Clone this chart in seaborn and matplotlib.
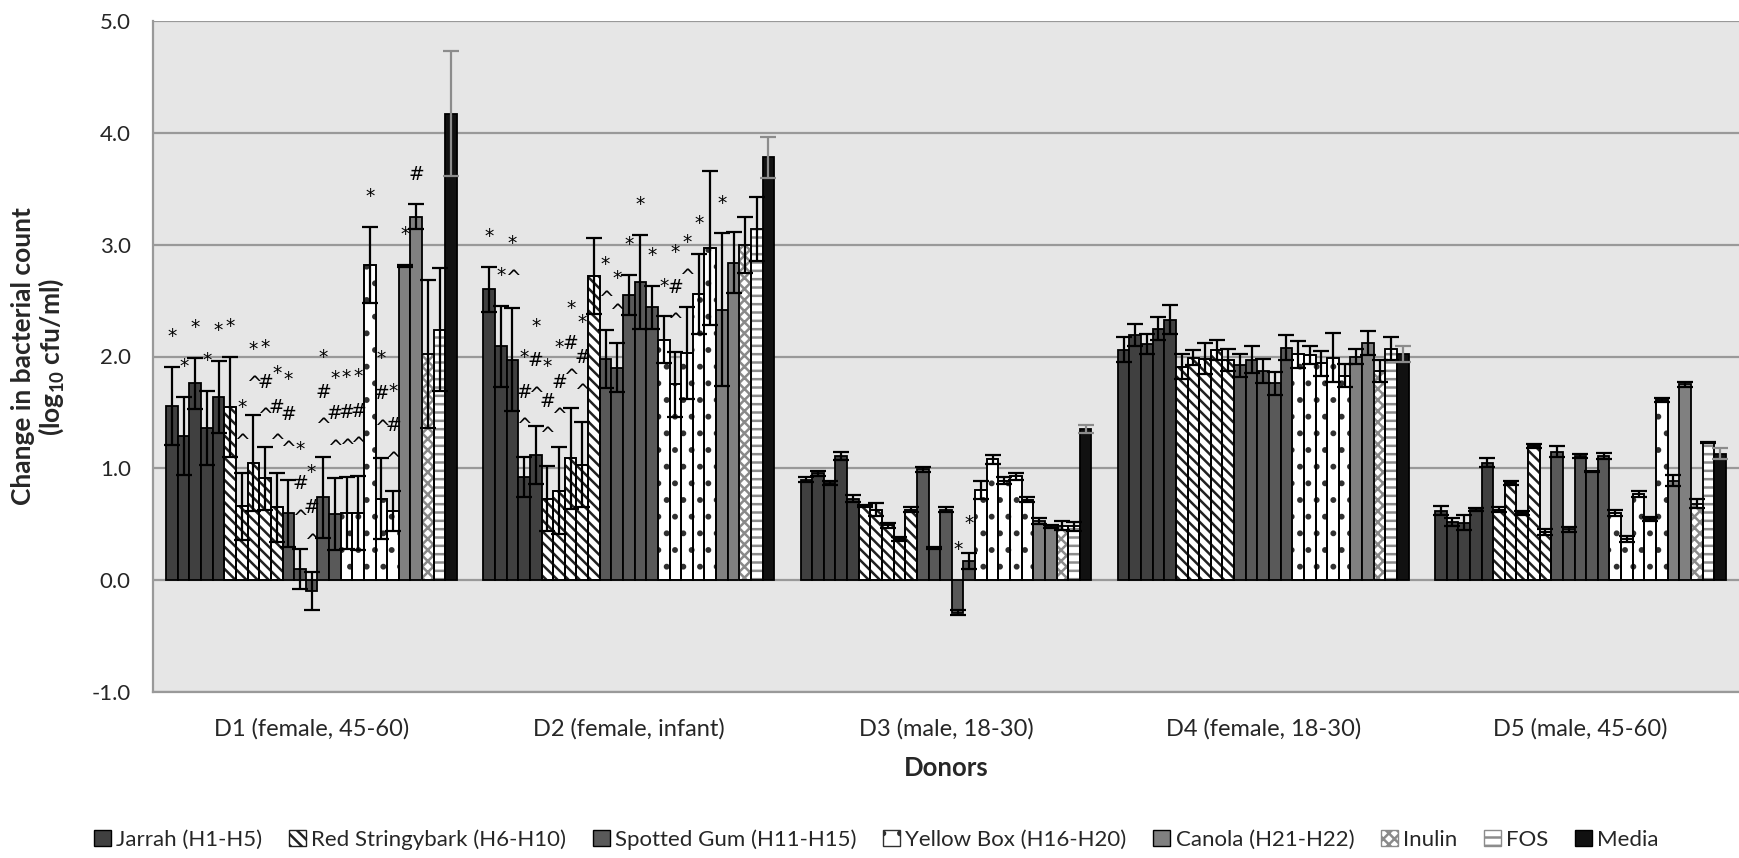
import numpy as np
import pandas as pd
import matplotlib
matplotlib.use('Agg')
import matplotlib.pyplot as plt
import seaborn as sns
from matplotlib.patches import Patch, Rectangle

# categories
donors = ['D1 (female, 45-60)', 'D2 (female, infant)', 'D3 (male, 18-30)',
          'D4 (female, 18-30)', 'D5 (male, 45-60)']
treatments = ['H%d' % i for i in range(1, 23)] + ['Inulin', 'FOS', 'Media']
group_names = ['Jarrah (H1-H5)', 'Red Stringybark (H6-H10)', 'Spotted Gum (H11-H15)',
               'Yellow Box (H16-H20)', 'Canola (H21-H22)', 'Inulin', 'FOS', 'Media']
group_sizes = [5, 5, 5, 5, 2, 1, 1, 1]

# change in log10 cfu/ml, one value per treatment (H1..H22, Inulin, FOS, Media)
d1_mean = [1.56, 1.29, 1.76, 1.36, 1.64, 1.55, 0.66, 1.05, 0.91, 0.65, 0.60, 0.10, -0.10,
           0.74, 0.59, 0.60, 0.60, 2.82, 0.73, 0.62, 2.81, 3.25, 2.02, 2.24, 4.17]
d1_err = [0.35, 0.35, 0.23, 0.33, 0.32, 0.45, 0.30, 0.43, 0.28, 0.31, 0.30, 0.18, 0.17,
          0.36, 0.32, 0.32, 0.33, 0.34, 0.36, 0.18, 0.01, 0.11, 0.66, 0.55, 0.56]
d2_mean = [2.60, 2.09, 1.97, 0.92, 1.12, 0.73, 0.80, 1.09, 1.03, 2.72, 1.98, 1.90, 2.55,
           2.67, 2.44, 2.15, 1.75, 2.03, 2.56, 2.97, 2.42, 2.84, 3.00, 3.14, 3.78]
d2_err = [0.20, 0.36, 0.46, 0.18, 0.26, 0.29, 0.39, 0.45, 0.38, 0.34, 0.26, 0.22, 0.18,
          0.42, 0.19, 0.21, 0.29, 0.41, 0.36, 0.69, 0.68, 0.27, 0.25, 0.29, 0.18]
d3_mean = [0.90, 0.955, 0.87, 1.11, 0.73, 0.66, 0.63, 0.49, 0.37, 0.63, 0.99, 0.29, 0.63,
           -0.29, 0.17, 0.81, 1.08, 0.89, 0.93, 0.72, 0.53, 0.48, 0.485, 0.48, 1.35]
d3_err = [0.02, 0.02, 0.02, 0.035, 0.035, 0.01, 0.06, 0.02, 0.02, 0.02, 0.02, 0.01, 0.02,
          0.02, 0.07, 0.08, 0.04, 0.03, 0.03, 0.02, 0.025, 0.01, 0.04, 0.04, 0.035]
d4_mean = [2.06, 2.19, 2.11, 2.25, 2.33, 1.91, 1.99, 1.98, 2.06, 1.97, 1.92, 1.97, 1.87,
           1.76, 2.08, 2.02, 2.01, 1.94, 1.99, 1.83, 2.00, 2.12, 1.87, 2.07, 2.02]
d4_err = [0.11, 0.10, 0.09, 0.10, 0.13, 0.11, 0.07, 0.14, 0.09, 0.10, 0.10, 0.12, 0.11,
          0.10, 0.11, 0.12, 0.08, 0.11, 0.22, 0.10, 0.07, 0.11, 0.10, 0.10, 0.07]
d5_mean = [0.62, 0.52, 0.515, 0.63, 1.05, 0.63, 0.87, 0.60, 1.20, 0.43, 1.15, 0.455, 1.11,
           0.97, 1.11, 0.60, 0.37, 0.77, 0.545, 1.61, 0.89, 1.75, 0.685, 1.23, 1.13]
d5_err = [0.04, 0.04, 0.07, 0.015, 0.04, 0.02, 0.02, 0.015, 0.015, 0.03, 0.05, 0.02, 0.015,
          0.005, 0.03, 0.03, 0.025, 0.03, 0.02, 0.015, 0.05, 0.02, 0.04, 0.005, 0.05]

# significance marks above each bar (top to bottom)
d1_marks = ['*', '*', '*', '*', '*', '*', '*^', '*^', '*#^', '*#^', '*#^', '*#^', '*#^',
            '*#^', '*#^', '*#^', '*#^', '*', '*#^', '*#^', '*', '#', '', '', '']
d2_marks = ['*', '*', '*^', '*#^', '*#^', '*#^', '*#^', '*#^', '*#^', '', '*^', '*^', '*',
            '*', '*', '*', '*#^', '*^', '*', '', '*', '', '', '', '']
d3_marks = [''] * 13 + ['*', '*'] + [''] * 10
d4_marks = [''] * 25
d5_marks = [''] * 25

means = [d1_mean, d2_mean, d3_mean, d4_mean, d5_mean]
errs = [d1_err, d2_err, d3_err, d4_err, d5_err]
marks = [d1_marks, d2_marks, d3_marks, d4_marks, d5_marks]

group_of = {}
k = 0
for g, n in zip(group_names, group_sizes):
    for t in treatments[k:k + n]:
        group_of[t] = g
    k += n

# look of each group: face, hatch, hatch colour
styles = {
    'Jarrah (H1-H5)': ('#404040', None, None),
    'Red Stringybark (H6-H10)': ('white', '\\\\\\', '#202020'),
    'Spotted Gum (H11-H15)': ('#595959', None, None),
    'Yellow Box (H16-H20)': ('white', '.', '#303030'),
    'Canola (H21-H22)': ('#808080', None, None),
    'Inulin': ('white', 'xxx', '#8a8a8a'),
    'FOS': ('white', '--', '#8c8c8c'),
    'Media': ('#111111', None, None),
}

rows = []
for d, m, e, mk in zip(donors, means, errs, marks):
    for t, v, er, s in zip(treatments, m, e, mk):
        rows.append({'donor': d, 'treatment': t, 'value': v, 'err': er, 'mark': s})
df = pd.DataFrame(rows)

sns.set_style('white')
plt.rcParams['font.family'] = ['Lato', 'DejaVu Sans']
plt.rcParams['mathtext.fontset'] = 'custom'
plt.rcParams['mathtext.rm'] = 'Lato'
plt.rcParams['mathtext.bf'] = 'Lato:bold'
plt.rcParams['hatch.linewidth'] = 1.8

fig = plt.figure(figsize=(17.39, 8.58), dpi=100)
ax = fig.add_axes([153 / 1739, 1 - 692 / 858, 1 - 153 / 1739, (692 - 21) / 858])
ax.set_facecolor('#E6E6E6')

palette = {t: styles[group_of[t]][0] for t in treatments}
sns.barplot(data=df, x='donor', y='value', hue='treatment', order=donors,
            hue_order=treatments, palette=palette, width=0.917, gap=0,
            errorbar=None, edgecolor='black', linewidth=1.3, legend=False,
            saturation=1, ax=ax)

for t, cont in zip(treatments, ax.containers):
    face, hatch, hcol = styles[group_of[t]]
    for bar in cont:
        xc = bar.get_x() + bar.get_width() / 2
        i = int(round(xc))
        row = df[(df.donor == donors[i]) & (df.treatment == t)].iloc[0]
        if hatch:
            bar.set_hatch(hatch)
            bar.set_edgecolor(hcol)
            ax.add_patch(Rectangle((bar.get_x(), bar.get_y()), bar.get_width(),
                                   bar.get_height(), fill=False, edgecolor='black',
                                   lw=1.3, zorder=2.5))
        ecol = '#8c8c8c' if t == 'Media' else 'black'
        ax.errorbar(xc, row.value, yerr=row.err, color=ecol, capsize=6,
                    elinewidth=1.6, capthick=1.6, zorder=4)
        base = max(row.value + row.err, 0) + 0.27
        for j, ch in enumerate(reversed(row.mark)):
            ax.text(xc, base + 0.31 * j, ch, ha='center', va='center',
                    fontsize=13.5, family='DejaVu Sans', color='black', zorder=5)

ax.set_xlim(-0.5, len(donors) - 0.5)
ax.set_ylim(-1, 5)
ax.set_yticks(np.arange(-1, 5.01, 1))
ax.yaxis.set_major_formatter(matplotlib.ticker.FormatStrFormatter('%.1f'))
ax.yaxis.grid(True, color='#999999', lw=1.6)
ax.set_axisbelow(True)
for side in ['top', 'right']:
    ax.spines[side].set_visible(False)
for side in ['left', 'bottom']:
    ax.spines[side].set_color('#999999')
    ax.spines[side].set_linewidth(1.6)
ax.tick_params(axis='y', length=0, labelsize=16, pad=16)
ax.tick_params(axis='x', length=0, labelsize=17, pad=19)

ax.set_ylabel('Change in bacterial count\n(log$_\\mathbf{10}$ cfu/ml)',
              fontsize=19, fontweight='bold', linespacing=1.05)
ax.yaxis.set_label_coords(-0.055, 0.5)
ax.set_xlabel('Donors', fontsize=18.5, fontweight='bold')
ax.xaxis.set_label_coords(0.5, -0.095)

handles = []
for g in group_names:
    face, hatch, hcol = styles[g]
    if hatch:
        handles.append(Patch(facecolor=face, edgecolor=hcol, hatch=hatch, label=g))
    else:
        handles.append(Patch(facecolor=face, edgecolor='black', label=g))
fig.legend(handles=handles, loc='lower center', bbox_to_anchor=(0.504, -0.014),
           ncol=8, frameon=False, fontsize=16, handlelength=0.75, handleheight=0.75,
           handletextpad=0.25, columnspacing=1.2)

fig.savefig('out.png', dpi=100)
